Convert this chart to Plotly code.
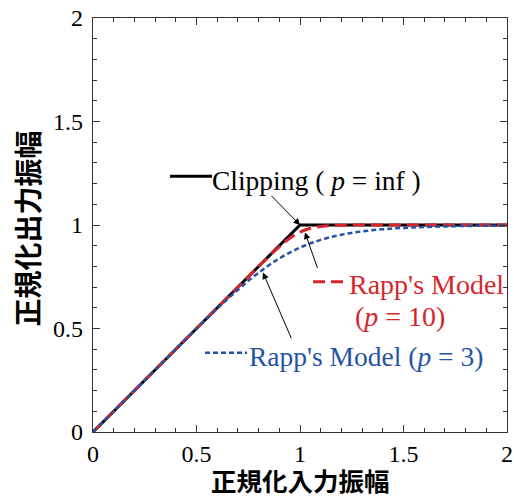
import plotly.graph_objects as go

# Data
x_clip = [0, 1, 2]
y_clip = [0, 1, 1]

x_p10 = [0, 0.5, 0.7, 0.8, 0.85, 0.9, 0.95, 1.0, 1.05, 1.1, 1.15, 1.2, 1.3, 1.5, 2.0]
y_p10 = [0, 0.5, 0.7, 0.7995, 0.8484, 0.8949, 0.9356, 0.9659, 0.9841, 0.9931, 0.9970,
         0.9987, 0.9997, 1.0, 1.0]

x_p3 = [0, 0.1, 0.2, 0.3, 0.4, 0.5, 0.6, 0.7, 0.8, 0.9, 1.0, 1.1, 1.2, 1.3, 1.4, 1.5,
        1.6, 1.7, 1.8, 1.9, 2.0]
y_p3 = [0, 0.1, 0.2, 0.3, 0.3997, 0.4987, 0.5955, 0.6871, 0.7696, 0.8383, 0.8909,
        0.9281, 0.9530, 0.9691, 0.9794, 0.9861, 0.9904, 0.9933, 0.9952, 0.9965, 0.9974]

tick_vals = [0, 0.5, 1, 1.5, 2]
tick_text = ["0", "0.5", "1", "1.5", "2"]

BLACK = "#000000"
RED = "#d7262b"
BLUE = "#2453a6"
SERIF = "Liberation Serif, Times New Roman, serif"
JP = "Noto Sans CJK JP"

fig = go.Figure()
fig.add_trace(go.Scatter(x=x_clip, y=y_clip, mode="lines",
                         line=dict(color=BLACK, width=3), showlegend=False))
fig.add_trace(go.Scatter(x=x_p10, y=y_p10, mode="lines", line_shape="spline",
                         line=dict(color=RED, width=3, dash="12px,6px"), showlegend=False))
fig.add_trace(go.Scatter(x=x_p3, y=y_p3, mode="lines", line_shape="spline",
                         line=dict(color=BLUE, width=2.5, dash="5px,3px"), showlegend=False))

axis_common = dict(
    range=[0, 2], tickvals=tick_vals, ticktext=tick_text,
    ticks="inside", ticklen=7, tickwidth=1, tickcolor="#333",
    minor=dict(ticks="inside", ticklen=4, dtick=0.1, tickwidth=1, tickcolor="#333"),
    showgrid=False, zeroline=False, showline=True, linecolor="#333", linewidth=1.2,
    mirror="ticks", tickfont=dict(family=SERIF, size=24, color="#000"),
    automargin=False,
)

fig.update_xaxes(**axis_common)
fig.update_yaxes(**axis_common, ticklabelstandoff=4)

# axis titles
fig.add_annotation(xref="paper", yref="paper", x=0.5, y=-0.115, text="<b>正規化入力振幅</b>",
                   showarrow=False, xanchor="center", yanchor="middle",
                   font=dict(family=JP, size=25.5, color="#000"))
fig.add_annotation(xref="paper", yref="paper", x=-0.159, y=0.492, text="<b>正規化出力振幅</b>",
                   showarrow=False, xanchor="center", yanchor="middle", textangle=-90,
                   font=dict(family=JP, size=28, color="#000"))

# legend-like line samples
fig.add_shape(type="line", x0=0.372, x1=0.575, y0=1.235, y1=1.235, line=dict(color=BLACK, width=3))
fig.add_shape(type="line", x0=1.063, x1=1.208, y0=0.726, y1=0.726, line=dict(color=RED, width=3, dash="12px,6px"))
fig.add_shape(type="line", x0=0.541, x1=0.744, y0=0.383, y1=0.383, line=dict(color=BLUE, width=2.5, dash="5px,3px"))

# text labels
fig.add_annotation(x=0.566, y=1.215, text="Clipping ( <i>p</i> = inf )", showarrow=False,
                   xanchor="left", yanchor="middle", font=dict(family=SERIF, size=27.5, color=BLACK))
fig.add_annotation(x=1.61, y=0.712, text="Rapp's Model", showarrow=False,
                   xanchor="center", yanchor="middle", font=dict(family=SERIF, size=28, color=RED))
fig.add_annotation(x=1.483, y=0.557, text="(<i>p</i> = 10)", showarrow=False,
                   xanchor="center", yanchor="middle", font=dict(family=SERIF, size=28, color=RED))
fig.add_annotation(x=0.745, y=0.363, text="Rapp's Model (<i>p</i> = 3)", showarrow=False,
                   xanchor="left", yanchor="middle", font=dict(family=SERIF, size=27.5, color=BLUE))

# arrows
arrow_style = dict(showarrow=True, arrowhead=2, arrowsize=1.3, arrowwidth=1, arrowcolor=BLACK,
                   axref="x", ayref="y", text="", standoff=0)
fig.add_annotation(x=1.0, y=1.0, ax=0.855, ay=1.148, **arrow_style)
fig.add_annotation(x=1.024, y=0.964, ax=1.087, ay=0.785, **arrow_style)
fig.add_annotation(x=0.821, y=0.770, ax=0.961, ay=0.446, **arrow_style)

fig.update_layout(
    width=514, height=499,
    margin=dict(l=93, r=7, t=18, b=67),
    plot_bgcolor="white", paper_bgcolor="white",
    showlegend=False,
)

fig.write_html("out.html")
